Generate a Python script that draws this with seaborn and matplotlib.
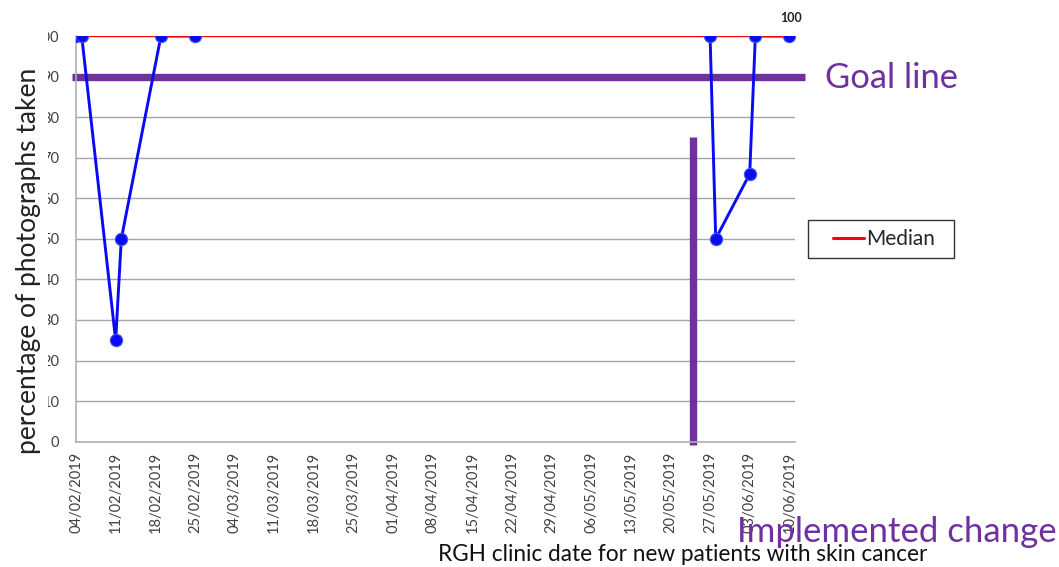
import matplotlib
matplotlib.use("Agg")
import matplotlib.pyplot as plt
import matplotlib.dates as mdates
from matplotlib.lines import Line2D
from matplotlib.patches import Rectangle
import seaborn as sns
import pandas as pd

# ---- data ----
dates = ["2019-02-04", "2019-02-05", "2019-02-11", "2019-02-12", "2019-02-19", "2019-02-25",
         "2019-05-27", "2019-05-28", "2019-06-03", "2019-06-04", "2019-06-10"]
pct = [100, 100, 25, 50, 100, 100, 100, 50, 66, 100, 100]
segment = [1, 1, 1, 1, 1, 1, 2, 2, 2, 2, 2]
median_dates = ["2019-02-04", "2019-06-10"]
median_vals = [100, 100]
goal_value = 90
change_date = "2019-05-24"
change_top = 75
tick_dates = pd.date_range("2019-02-04", "2019-06-10", freq="7D")

df = pd.DataFrame({"date": pd.to_datetime(dates), "pct": pct, "segment": segment})
med = pd.DataFrame({"date": pd.to_datetime(median_dates), "pct": median_vals})

sns.set_style("white")
plt.rcParams["font.family"] = ["Lato", "DejaVu Sans"]

fig = plt.figure(figsize=(10.59, 5.67), dpi=100)
ax = fig.add_axes([0.0718, 0.221, 0.6789, 0.7155])

blue = "#0A0AF5"
sns.lineplot(data=df, x="date", y="pct", units="segment", estimator=None,
             color=blue, linewidth=2.1, ax=ax, zorder=3)
sns.lineplot(data=med, x="date", y="pct", color="#FF0000", linewidth=1.6, ax=ax, zorder=4)
sns.scatterplot(data=df, x="date", y="pct", color=blue, s=78, edgecolor="#3A5AF0",
                linewidth=0.8, ax=ax, zorder=5, legend=False)

ax.set_ylim(0, 100)
ax.set_xlim(pd.Timestamp("2019-02-04"), pd.Timestamp("2019-06-11"))
ax.set_yticks(range(0, 101, 10))
ax.set_xticks(tick_dates)
ax.xaxis.set_major_formatter(mdates.DateFormatter("%d/%m/%Y"))
ax.tick_params(axis="x", rotation=90, labelsize=10.5, colors="#404040", length=4, color="#a0a0a0")
ax.tick_params(axis="y", labelsize=10.5, colors="#404040", length=4, color="#a0a0a0", pad=8)
ax.yaxis.grid(True, color="#a6a6a6", linewidth=1.0)
ax.xaxis.grid(False)
for s in ["top", "right"]:
    ax.spines[s].set_visible(False)
for s in ["left", "bottom"]:
    ax.spines[s].set_color("#b0b0b0")
    ax.spines[s].set_linewidth(1.2)
ax.set_xlabel("")
ax.set_ylabel("")

# goal line and implemented change line
purple = "#7030A0"
ax.axhline(goal_value, xmin=-0.006, xmax=1.014, color=purple, linewidth=5.3, clip_on=False,
           zorder=2, solid_capstyle="butt")
cd = mdates.date2num(pd.Timestamp(change_date))
ax.plot([cd, cd], [-0.8, change_top], color=purple, linewidth=5.3, solid_capstyle="butt",
        clip_on=False, zorder=2)

# data label
ax.annotate("100", (mdates.date2num(pd.Timestamp("2019-06-10")), 100), xytext=(1, 9),
            textcoords="offset points", ha="center", va="bottom", fontsize=9,
            fontweight="bold", color="#222222", annotation_clip=False)

# white panel of the axis title (partly hides the y tick labels, as in the reference)
fig.patches.append(Rectangle((0, 1 - 458 / 567), 47.5 / 1059, 430 / 567,
                             transform=fig.transFigure, facecolor="white",
                             edgecolor="none", zorder=5))
fig.text(0.0265, 0.54, "percentage of photographs taken", rotation=90, ha="center", va="center",
         fontsize=19, color="#222222", zorder=10)
fig.text(0.645, 1 - 561 / 567, "RGH clinic date for new patients with skin cancer", ha="center",
         va="baseline", fontsize=16.3, color="#111111")
fig.text(0.779, 0.862, "Goal line", ha="left", va="center", fontsize=24.8, color=purple)
fig.text(0.696, 0.062, "Implemented change", ha="left", va="center", fontsize=25, color=purple)

# legend (frame drawn as a rectangle in figure pixels)
fig.patches.append(Rectangle((808 / 1059, 1 - 258 / 567), 146 / 1059, 38 / 567,
                             transform=fig.transFigure, facecolor="white",
                             edgecolor="#333333", linewidth=1.0, zorder=1))
h = [Line2D([0], [0], color="#FF0000", linewidth=2.2)]
leg = fig.legend(h, ["Median"], loc="center left", bbox_to_anchor=(833 / 1059, 1 - 239 / 567),
                 frameon=False, fontsize=15, handlelength=1.5,
                 handletextpad=0.1, borderpad=0, borderaxespad=0)

fig.savefig("out.png", dpi=100)
